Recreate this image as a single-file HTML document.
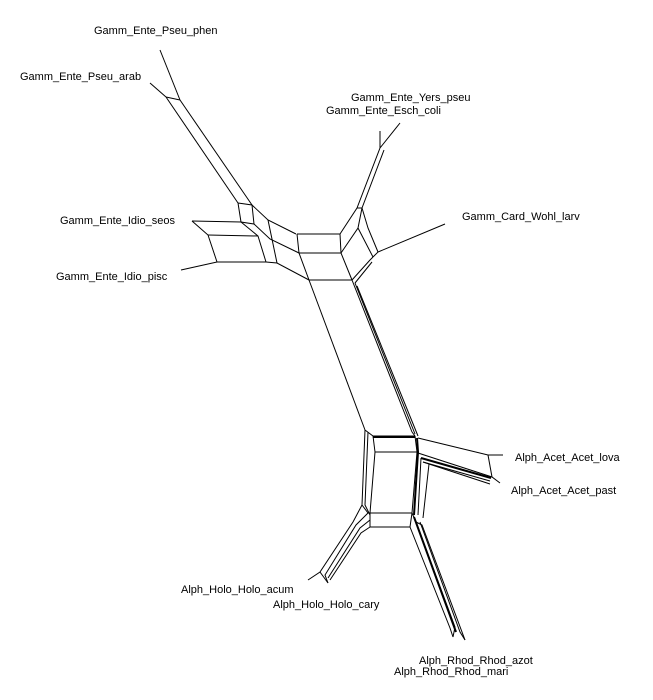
<!DOCTYPE html>
<html><head><meta charset="utf-8"><style>
html,body{margin:0;padding:0;background:#fff;}
svg{display:block;}
text{font-family:"Liberation Sans",sans-serif;font-size:11px;fill:#000;}
</style></head><body>
<svg width="653" height="700" viewBox="0 0 653 700" xmlns="http://www.w3.org/2000/svg">
<g stroke="#000" stroke-width="1" fill="none">
<!-- top-left branch -->
<polyline points="160,50 180,100"/>
<polyline points="150,83 166,97"/>
<polyline points="166,97 180,100"/>
<polyline points="166,97 238,203"/>
<polyline points="180,100 252,205"/>
<polyline points="238,203 252,205 254,224 241,222 238,203"/>
<polyline points="192,221 241,222"/>
<polyline points="192,221 208,235 217,262"/>
<polyline points="208,235 258,236"/>
<polyline points="241,222 258,236 266,262"/>
<polyline points="181,270 217,262 266,262"/>
<polyline points="252,205 268,220 296,234"/>
<polyline points="254,224 270,239 299,253"/>
<polyline points="268,220 277,263"/>
<polyline points="266,262 277,263 309,280"/>
<!-- central box -->
<polyline points="297,234 340,234"/>
<polyline points="299,253 341,253"/>
<polyline points="309,280 352,280"/>
<polyline points="297,234 299,253 309,280"/>
<polyline points="340,234 341,253 352,280"/>
<!-- right top -->
<polyline points="340,234 357,208 380,148 400,123"/>
<polyline points="380,148 380,131"/>
<polyline points="341,253 358,228 362,208"/>
<polyline points="357,208 362,208 384,150"/>
<polyline points="358,228 373,257"/>
<polyline points="362,208 368,228 378,252"/>
<polyline points="373,257 378,252 445,224"/>
<polyline points="352,280 370,260 373,257"/>
<polyline points="355,283 372,262"/>
<!-- long central edges -->
<polyline points="309,280 365,430"/>
<polyline points="352,280 412,432"/>
<polyline points="355,283 415,434"/>
<polyline points="357,286 418,436"/>
<!-- bottom box -->
<polyline points="365,430 373,436 415,436"/>
<polyline points="373,437 415,437" stroke-width="2"/>
<polyline points="375,452 417,452"/>
<polyline points="368,513 412,513"/>
<polyline points="370,527 410,527"/>
<polyline points="365,430 362,505 368,513"/>
<polyline points="368,432 365,505 370,515"/>
<polyline points="373,436 375,452 370,513 370,527"/>
<polyline points="415,436 417,452 412,513 410,527"/>
<polyline points="417,438 418,452 414,515" stroke-width="2"/>
<polyline points="412,432 415,436"/>
<!-- Acet -->
<polyline points="418,438 488,455 503,455"/>
<polyline points="488,455 492,477"/>
<polyline points="418,453 492,477 500,483"/>
<polyline points="421,458 491,478" stroke-width="2"/>
<polyline points="423,462 490,481"/>
<polyline points="421,458 418,515"/>
<polyline points="429,464 423,518"/>
<polyline points="423,462 429,464 490,484"/>
<!-- Holo -->
<polyline points="362,505 353,522 320,572 308,580"/>
<polyline points="368,513 356,525 325,575 328,583"/>
<polyline points="370,520 360,528 328,578"/>
<polyline points="370,527 361,533 330,580"/>
<polyline points="320,572 328,583"/>
<!-- Rhod -->
<polyline points="412,513 416,522 455,627 453,637"/>
<polyline points="410,527 450,628 453,637"/>
<polyline points="414,517 456,632" stroke-width="2"/>
<polyline points="416,522 422,525 465,640"/>
<polyline points="420,522 460,632 465,640"/>
</g>
<text x="94" y="34">Gamm_Ente_Pseu_phen</text>
<text x="20" y="80">Gamm_Ente_Pseu_arab</text>
<text x="351" y="101">Gamm_Ente_Yers_pseu</text>
<text x="326" y="114">Gamm_Ente_Esch_coli</text>
<text x="462" y="220">Gamm_Card_Wohl_larv</text>
<text x="60" y="224">Gamm_Ente_Idio_seos</text>
<text x="56" y="280">Gamm_Ente_Idio_pisc</text>
<text x="515" y="461">Alph_Acet_Acet_lova</text>
<text x="511" y="494">Alph_Acet_Acet_past</text>
<text x="181" y="593">Alph_Holo_Holo_acum</text>
<text x="273" y="608">Alph_Holo_Holo_cary</text>
<text x="419" y="664">Alph_Rhod_Rhod_azot</text>
<text x="394" y="675">Alph_Rhod_Rhod_mari</text>
</svg>
</body></html>
